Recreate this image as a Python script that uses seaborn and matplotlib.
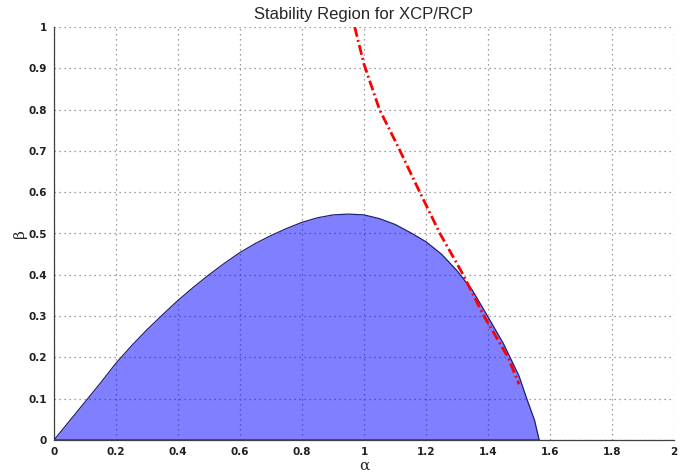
import matplotlib
matplotlib.use("Agg")
import matplotlib.pyplot as plt
import seaborn as sns
import pandas as pd

# Boundary of the stable (alpha, beta) region
region_alpha = [0.00, 0.05, 0.10, 0.15, 0.20, 0.25, 0.30, 0.35, 0.40, 0.45, 0.50,
                0.55, 0.60, 0.65, 0.70, 0.75, 0.80, 0.85, 0.90, 0.95, 1.00, 1.05,
                1.10, 1.15, 1.20, 1.25, 1.30, 1.35, 1.40, 1.45, 1.50, 1.525, 1.55,
                1.565]
region_beta = [0.000, 0.046, 0.092, 0.138, 0.186, 0.228, 0.267, 0.303, 0.338, 0.370,
               0.400, 0.428, 0.454, 0.476, 0.495, 0.512, 0.527, 0.538, 0.545, 0.547,
               0.545, 0.536, 0.522, 0.502, 0.480, 0.450, 0.410, 0.362, 0.298, 0.233,
               0.155, 0.100, 0.048, 0.000]

# Boundary from the RCP analysis
rcp_alpha = [0.97, 1.0, 1.05, 1.11, 1.18, 1.245, 1.32, 1.387, 1.465, 1.50]
rcp_beta = [1.0, 0.91, 0.80, 0.71, 0.60, 0.50, 0.40, 0.30, 0.20, 0.135]

x_ticks = [0, 0.2, 0.4, 0.6, 0.8, 1, 1.2, 1.4, 1.6, 1.8, 2]
y_ticks = [0, 0.1, 0.2, 0.3, 0.4, 0.5, 0.6, 0.7, 0.8, 0.9, 1]

sns.set_style("white")
plt.rcParams["font.family"] = ["DejaVu Sans"]

fig = plt.figure(figsize=(6.94, 4.73), dpi=100)
ax = fig.add_axes([54 / 694, 33 / 473, 620 / 694, 413 / 473])

region = pd.DataFrame({"alpha": region_alpha, "beta": region_beta})
rcp = pd.DataFrame({"alpha": rcp_alpha, "beta": rcp_beta})

ax.grid(True, color="#808080", linestyle=(0, (1, 3)), linewidth=0.9)
ax.set_axisbelow(True)

ax.fill_between(region["alpha"], region["beta"], 0, color="blue", alpha=0.5,
                linewidth=0, zorder=2)
sns.lineplot(data=region, x="alpha", y="beta", ax=ax, color="#202070",
             linewidth=0.9, zorder=3)
ax.plot([region_alpha[0], region_alpha[-1]], [0, 0], color="#3030c0",
        linewidth=1.2, zorder=3)
sns.lineplot(data=rcp, x="alpha", y="beta", ax=ax, color="red", linewidth=2.0,
             zorder=4, sort=False)
ax.lines[-1].set_dashes([3.6, 1.2, 0.7, 1.2])

ax.set_xlim(0, 2)
ax.set_ylim(0, 1)
ax.set_xticks(x_ticks)
ax.set_yticks(y_ticks)
ax.set_xticklabels([f"{t:g}" for t in x_ticks], fontsize=7.5, fontweight="bold")
ax.set_yticklabels([f"{t:g}" for t in y_ticks], fontsize=7.5, fontweight="bold")
ax.tick_params(direction="in", length=3, width=0.8, colors="#404040",
               labelcolor="#202020", pad=5)

for side in ("top", "right"):
    ax.spines[side].set_visible(False)
for side in ("left", "bottom"):
    ax.spines[side].set_color("#404040")
    ax.spines[side].set_linewidth(0.9)

ax.set_xlabel("α", fontsize=11, family="DejaVu Serif")
ax.xaxis.set_label_coords(0.5, -0.046)
ax.set_ylabel("β", fontsize=11, family="DejaVu Serif")
ax.yaxis.set_label_coords(-0.044, 0.5)
ax.set_title("Stability Region for XCP/RCP", fontsize=12, pad=6,
             family="Liberation Sans")

fig.savefig("out.png", dpi=100)
